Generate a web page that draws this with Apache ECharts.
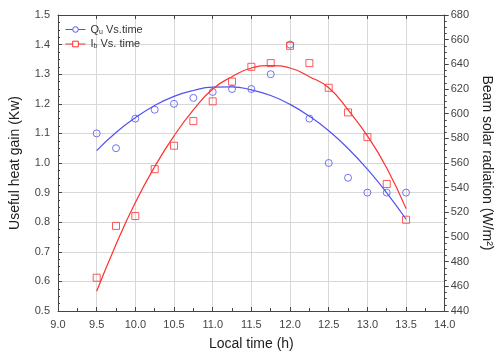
<!DOCTYPE html>
<html><head><meta charset="utf-8">
<script src="https://cdn.jsdelivr.net/npm/echarts@6/dist/echarts.min.js"></script>
<style>html,body{margin:0;padding:0;background:#fff}#c{width:502px;height:356px}</style>
</head><body><div id="c"></div>
<script>
const times = [9.5, 9.75, 10.0, 10.25, 10.5, 10.75, 11.0, 11.25, 11.5, 11.75, 12.0, 12.25, 12.5, 12.75, 13.0, 13.25, 13.5];
const quValues = [1.10, 1.05, 1.15, 1.18, 1.20, 1.22, 1.24, 1.25, 1.25, 1.30, 1.40, 1.15, 1.00, 0.95, 0.90, 0.90, 0.90];
const ibValues = [467, 509, 517, 555, 574, 594, 610, 626, 638, 641, 655, 641, 621, 601, 581, 543, 514];
const quFitValues = [1.042, 1.103, 1.153, 1.194, 1.225, 1.245, 1.256, 1.257, 1.247, 1.228, 1.198, 1.158, 1.109, 1.049, 0.979, 0.899, 0.810];
const ibFitValues = [456, 494, 528, 557, 582, 603, 620, 630, 637, 639, 637, 630, 621, 603, 582, 556, 523];
const xTicks = ['9.0','9.5','10.0','10.5','11.0','11.5','12.0','12.5','13.0','13.5','14.0'];

const pair = (xs, ys) => xs.map((x, i) => [x, ys[i]]);
const blue = '#5252f2', red = '#ff3030';
const labelStyle = {color: '#444', fontSize: 11, fontFamily: 'Liberation Sans, Arial'};
const chart = echarts.init(document.getElementById('c'));
chart.setOption({
  animation: false,
  grid: {left: 55, right: 49, top: 15, bottom: 42},
  legend: {
    left: 60, top: 19, orient: 'vertical', itemGap: 3, itemWidth: 20, itemHeight: 7,
    data: [
      {name: 'Qu', itemStyle: {color: '#fff', borderColor: blue, borderWidth: 1}, lineStyle: {width: 1}},
      {name: 'Ib', itemStyle: {color: '#fff', borderColor: red, borderWidth: 1}, lineStyle: {width: 1}}
    ],
    formatter: n => n === 'Qu' ? '{a|Q}{s|u}{a| Vs.time}' : '{a|I}{s|b}{a| Vs. time}',
    textStyle: {rich: {
      a: {fontSize: 11, color: '#333', fontFamily: 'Liberation Sans, Arial'},
      s: {fontSize: 7, color: '#333', padding: [5, 0, 0, 0], fontFamily: 'Liberation Sans, Arial'}
    }}
  },
  xAxis: [{
    type: 'value', min: 9, max: 14, interval: 0.5,
    name: 'Local time (h)', nameLocation: 'middle', nameGap: 26,
    nameTextStyle: {fontSize: 14, color: '#222', fontFamily: 'Liberation Sans, Arial'},
    axisLine: {lineStyle: {color: '#444'}},
    axisTick: {inside: true, length: 4, lineStyle: {color: '#444'}},
    minorTick: {show: true, splitNumber: 2, length: 3, lineStyle: {color: '#444'}},
    axisLabel: Object.assign({formatter: v => xTicks[Math.round((v - 9) / 0.5)], margin: 8}, labelStyle),
    splitLine: {show: true, lineStyle: {color: '#d8d8d8'}}
  }, {
    type: 'value', min: 9, max: 14, interval: 0.5, position: 'top',
    axisLine: {show: true, lineStyle: {color: '#444'}},
    axisTick: {show: true, inside: true, length: 4, lineStyle: {color: '#444'}},
    minorTick: {show: false},
    axisLabel: {show: false}, splitLine: {show: false}
  }],
  yAxis: [{
    type: 'value', min: 0.5, max: 1.5, interval: 0.1,
    name: 'Useful heat gain (Kw)', nameLocation: 'middle', nameGap: 36,
    nameTextStyle: {fontSize: 14, color: '#222', fontFamily: 'Liberation Sans, Arial'},
    axisLine: {show: true, lineStyle: {color: '#444'}},
    axisTick: {show: true, inside: true, length: 4, lineStyle: {color: '#444'}},
    minorTick: {show: true, splitNumber: 4, length: 2, lineStyle: {color: '#444'}},
    axisLabel: Object.assign({formatter: v => v.toFixed(1), margin: 8}, labelStyle),
    splitLine: {show: true, lineStyle: {color: '#d8d8d8'}}
  }, {
    type: 'value', min: 440, max: 680, interval: 20, position: 'right',
    name: 'Beam solar radiation (W/m²)', nameLocation: 'middle', nameGap: 34, nameRotate: -90,
    nameTextStyle: {fontSize: 14, color: '#222', fontFamily: 'Liberation Sans, Arial'},
    axisLine: {show: true, lineStyle: {color: '#444'}},
    axisTick: {show: true, inside: false, length: 4, lineStyle: {color: '#444'}},
    minorTick: {show: true, splitNumber: 4, length: 2, lineStyle: {color: '#444'}},
    axisLabel: Object.assign({margin: 6}, labelStyle),
    splitLine: {show: false}
  }],
  series: [
    {name: 'Qu', type: 'line', yAxisIndex: 0, data: pair(times, quFitValues), smooth: true,
     symbol: 'circle', symbolSize: 7, showSymbol: false, lineStyle: {color: blue, width: 1.2}, itemStyle: {color: blue}},
    {name: 'Ib', type: 'line', yAxisIndex: 1, data: pair(times, ibFitValues), smooth: true,
     symbol: 'rect', symbolSize: 7, showSymbol: false, lineStyle: {color: red, width: 1.2}, itemStyle: {color: red}},
    {name: 'Qu', type: 'scatter', yAxisIndex: 0, data: pair(times, quValues), symbol: 'circle', symbolSize: 7,
     itemStyle: {color: 'transparent', borderColor: blue, borderWidth: 1}},
    {name: 'Ib', type: 'scatter', yAxisIndex: 1, data: pair(times, ibValues), symbol: 'rect', symbolSize: 7,
     itemStyle: {color: 'transparent', borderColor: red, borderWidth: 1}}
  ]
});
</script></body></html>
